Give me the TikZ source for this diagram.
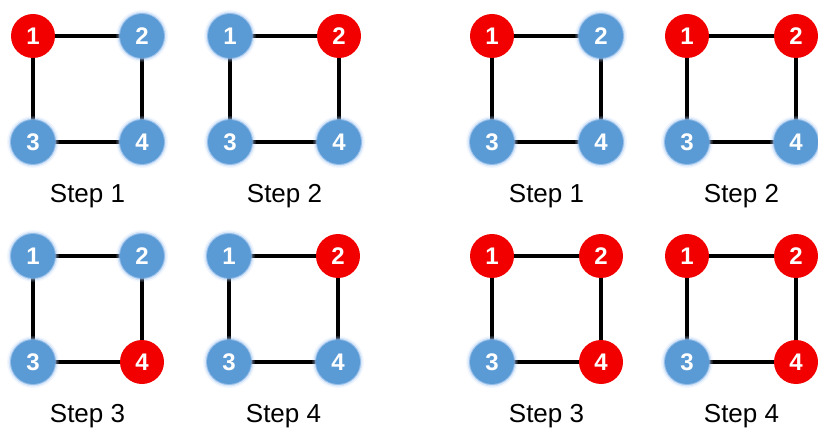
\documentclass[tikz,border=0pt]{standalone}
\usepackage{fontspec}
\setmainfont{Liberation Sans}
\usetikzlibrary{backgrounds}
\definecolor{nred}{HTML}{F20000}
\definecolor{nblue}{HTML}{5B9BD5}
\definecolor{glow}{HTML}{A8C8F4}
\tikzset{
  nd/.style={circle, minimum size=44pt, inner sep=0pt, text=white,
    font=\fontsize{24}{24}\selectfont\bfseries},
  r/.style={nd, fill=nred},
  b/.style={nd, fill=nblue,
    preaction={draw=glow, line width=8pt, opacity=0.15},
    preaction={draw=glow, line width=5pt, opacity=0.35},
    preaction={draw=nblue!60!glow, line width=2pt, opacity=0.7}},
  edge/.style={line width=3.2pt, black},
  lbl/.style={font=\fontsize{26}{26}\selectfont}
}
\begin{document}
\begin{tikzpicture}[x=1pt, y=-1pt]
\useasboundingbox (0,0) rectangle (818,430);
\foreach \g/\x/\y/\ca/\cb/\cc/\cd/\lab in {
  A/33/36/r/b/b/b/1, B/230/36/b/r/b/b/2,
  C/492/36/r/b/b/b/1, D/687/36/r/r/b/b/2,
  E/33/256/b/b/b/r/3, F/229/256/b/r/b/b/4,
  G/492/256/r/r/b/r/3, H/687/256/r/r/b/r/4}{
  \node[\ca] (\g1) at (\x,\y) {1};
  \node[\cb] (\g2) at (\x+109,\y) {2};
  \node[\cc] (\g3) at (\x,\y+106) {3};
  \node[\cd] (\g4) at (\x+109,\y+106) {4};
  \node[lbl] (\g l) at (\x+54.5,\y+160) {Step \lab};
  \begin{scope}[on background layer]
    \draw[edge] (\g1.center) -- (\g2.center);
    \draw[edge] (\g1.center) -- (\g3.center);
    \draw[edge] (\g2.center) -- (\g4.center);
    \draw[edge] (\g3.center) -- (\g4.center);
  \end{scope}
}
\end{tikzpicture}
\end{document}
